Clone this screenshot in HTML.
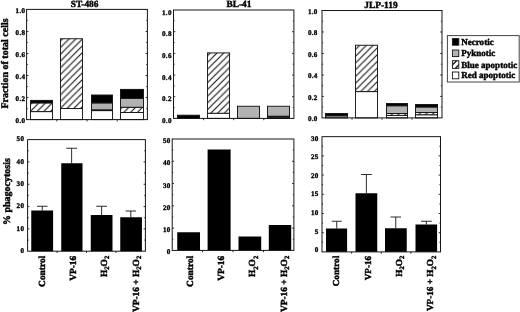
<!DOCTYPE html>
<html><head><meta charset="utf-8"><title>Figure</title>
<style>
html,body{margin:0;padding:0;background:#fff;}
svg{display:block}
.t{stroke-width:0.33px;letter-spacing:0.3px}
text{font-family:"Liberation Serif","DejaVu Serif",serif;font-weight:bold;fill:#000;stroke:#000;stroke-width:0.42px;text-rendering:geometricPrecision}
</style></head>
<body>
<svg width="520" height="312" viewBox="0 0 520 312">
<defs>
<pattern id="hat" width="6.75" height="6.75" patternUnits="userSpaceOnUse">
<path d="M-1,7.75 L7.75,-1 M-1,1 L1,-1 M5.75,7.75 L7.75,5.75" stroke="#151515" stroke-width="1.15" fill="none"/>
</pattern>
<filter id="soft" x="0" y="0" width="520" height="312" filterUnits="userSpaceOnUse"><feGaussianBlur stdDeviation="0.3"/></filter>
<clipPath id="swc"><rect x="452.4" y="60.7" width="6.4" height="7.7"/></clipPath>
<pattern id="hat2" width="7" height="7" patternUnits="userSpaceOnUse" x="452.4" y="61.8">
<path d="M-1,8 L8,-1 M-1,1 L1,-1 M6,8 L8,6" stroke="#151515" stroke-width="1.7" fill="none"/>
</pattern>
</defs>
<rect width="520" height="312" fill="#fff"/>
<g filter="url(#soft)">
<rect x="26.60" y="9.40" width="120.80" height="110.20" fill="#fff"/>
<rect x="173.50" y="10.00" width="120.40" height="108.40" fill="#fff"/>
<rect x="322.00" y="10.50" width="120.00" height="107.40" fill="#fff"/>
<rect x="30.50" y="111.60" width="22.00" height="8.00" fill="#fff" stroke="#151515" stroke-width="0.95"/>
<rect x="30.50" y="102.90" width="22.00" height="8.70" fill="#fff"/>
<rect x="30.50" y="102.90" width="22.00" height="8.70" fill="url(#hat)" stroke="#151515" stroke-width="0.95"/>
<rect x="30.50" y="100.40" width="22.00" height="2.50" fill="#000" stroke="#151515" stroke-width="0.95"/>
<rect x="60.50" y="108.50" width="22.00" height="11.10" fill="#fff" stroke="#151515" stroke-width="0.95"/>
<rect x="60.50" y="38.75" width="22.00" height="69.75" fill="#fff"/>
<rect x="60.50" y="38.75" width="22.00" height="69.75" fill="url(#hat)" stroke="#151515" stroke-width="0.95"/>
<rect x="91.50" y="110.60" width="21.00" height="9.00" fill="#fff" stroke="#151515" stroke-width="0.95"/>
<rect x="91.50" y="109.80" width="21.00" height="0.80" fill="#fff"/>
<rect x="91.50" y="109.80" width="21.00" height="0.80" fill="url(#hat)" stroke="#151515" stroke-width="0.95"/>
<rect x="91.50" y="102.90" width="21.00" height="6.90" fill="#b2b2b2" stroke="#151515" stroke-width="0.95"/>
<rect x="91.50" y="95.00" width="21.00" height="7.90" fill="#000" stroke="#151515" stroke-width="0.95"/>
<rect x="120.50" y="112.50" width="23.00" height="7.10" fill="#fff" stroke="#151515" stroke-width="0.95"/>
<rect x="120.50" y="107.25" width="23.00" height="5.25" fill="#fff"/>
<rect x="120.50" y="107.25" width="23.00" height="5.25" fill="url(#hat)" stroke="#151515" stroke-width="0.95"/>
<rect x="120.50" y="98.50" width="23.00" height="8.75" fill="#b2b2b2" stroke="#151515" stroke-width="0.95"/>
<rect x="120.50" y="89.40" width="23.00" height="9.10" fill="#000" stroke="#151515" stroke-width="0.95"/>
<rect x="177.50" y="115.20" width="22.00" height="3.20" fill="#000" stroke="#151515" stroke-width="0.95"/>
<rect x="207.50" y="113.25" width="22.00" height="5.15" fill="#fff" stroke="#151515" stroke-width="0.95"/>
<rect x="207.50" y="52.90" width="22.00" height="60.35" fill="#fff"/>
<rect x="207.50" y="52.90" width="22.00" height="60.35" fill="url(#hat)" stroke="#151515" stroke-width="0.95"/>
<rect x="237.50" y="106.25" width="22.00" height="12.15" fill="#b2b2b2" stroke="#151515" stroke-width="0.95"/>
<rect x="267.50" y="117.20" width="22.00" height="1.20" fill="#fff" stroke="#151515" stroke-width="0.95"/>
<rect x="267.50" y="116.20" width="22.00" height="1.00" fill="#000" stroke="#151515" stroke-width="0.95"/>
<rect x="267.50" y="106.25" width="22.00" height="9.95" fill="#b2b2b2" stroke="#151515" stroke-width="0.95"/>
<rect x="325.50" y="115.75" width="22.00" height="2.15" fill="#b2b2b2" stroke="#151515" stroke-width="0.95"/>
<rect x="325.50" y="113.50" width="22.00" height="2.25" fill="#000" stroke="#151515" stroke-width="0.95"/>
<rect x="355.50" y="91.60" width="22.00" height="26.30" fill="#fff" stroke="#151515" stroke-width="0.95"/>
<rect x="355.50" y="45.25" width="22.00" height="46.35" fill="#fff"/>
<rect x="355.50" y="45.25" width="22.00" height="46.35" fill="url(#hat)" stroke="#151515" stroke-width="0.95"/>
<rect x="386.50" y="115.40" width="21.00" height="2.50" fill="#fff" stroke="#151515" stroke-width="0.95"/>
<rect x="386.50" y="113.50" width="21.00" height="1.90" fill="#fff"/>
<rect x="386.50" y="113.50" width="21.00" height="1.90" fill="url(#hat)" stroke="#151515" stroke-width="0.95"/>
<rect x="386.50" y="105.75" width="21.00" height="7.75" fill="#b2b2b2" stroke="#151515" stroke-width="0.95"/>
<rect x="386.50" y="103.50" width="21.00" height="2.25" fill="#000" stroke="#151515" stroke-width="0.95"/>
<rect x="415.50" y="114.75" width="22.00" height="3.15" fill="#fff" stroke="#151515" stroke-width="0.95"/>
<rect x="415.50" y="112.50" width="22.00" height="2.25" fill="#fff"/>
<rect x="415.50" y="112.50" width="22.00" height="2.25" fill="url(#hat)" stroke="#151515" stroke-width="0.95"/>
<rect x="415.50" y="107.00" width="22.00" height="5.50" fill="#b2b2b2" stroke="#151515" stroke-width="0.95"/>
<rect x="415.50" y="104.50" width="22.00" height="2.50" fill="#000" stroke="#151515" stroke-width="0.95"/>
<rect x="26.60" y="9.40" width="120.80" height="110.20" fill="none" stroke="#151515" stroke-width="1.0"/>
<line x1="26.60" y1="31.44" x2="28.40" y2="31.44" stroke="#151515" stroke-width="0.9"/>
<line x1="145.60" y1="31.44" x2="147.40" y2="31.44" stroke="#151515" stroke-width="0.9"/>
<line x1="26.60" y1="53.48" x2="28.40" y2="53.48" stroke="#151515" stroke-width="0.9"/>
<line x1="145.60" y1="53.48" x2="147.40" y2="53.48" stroke="#151515" stroke-width="0.9"/>
<line x1="26.60" y1="75.52" x2="28.40" y2="75.52" stroke="#151515" stroke-width="0.9"/>
<line x1="145.60" y1="75.52" x2="147.40" y2="75.52" stroke="#151515" stroke-width="0.9"/>
<line x1="26.60" y1="97.56" x2="28.40" y2="97.56" stroke="#151515" stroke-width="0.9"/>
<line x1="145.60" y1="97.56" x2="147.40" y2="97.56" stroke="#151515" stroke-width="0.9"/>
<line x1="26.60" y1="20.42" x2="27.70" y2="20.42" stroke="#151515" stroke-width="0.9"/>
<line x1="146.30" y1="20.42" x2="147.40" y2="20.42" stroke="#151515" stroke-width="0.9"/>
<line x1="26.60" y1="42.46" x2="27.70" y2="42.46" stroke="#151515" stroke-width="0.9"/>
<line x1="146.30" y1="42.46" x2="147.40" y2="42.46" stroke="#151515" stroke-width="0.9"/>
<line x1="26.60" y1="64.50" x2="27.70" y2="64.50" stroke="#151515" stroke-width="0.9"/>
<line x1="146.30" y1="64.50" x2="147.40" y2="64.50" stroke="#151515" stroke-width="0.9"/>
<line x1="26.60" y1="86.54" x2="27.70" y2="86.54" stroke="#151515" stroke-width="0.9"/>
<line x1="146.30" y1="86.54" x2="147.40" y2="86.54" stroke="#151515" stroke-width="0.9"/>
<line x1="26.60" y1="108.58" x2="27.70" y2="108.58" stroke="#151515" stroke-width="0.9"/>
<line x1="146.30" y1="108.58" x2="147.40" y2="108.58" stroke="#151515" stroke-width="0.9"/>
<line x1="56.80" y1="119.60" x2="56.80" y2="121.40" stroke="#151515" stroke-width="0.9"/>
<line x1="87.00" y1="119.60" x2="87.00" y2="121.40" stroke="#151515" stroke-width="0.9"/>
<line x1="117.20" y1="119.60" x2="117.20" y2="121.40" stroke="#151515" stroke-width="0.9"/>
<rect x="173.50" y="10.00" width="120.40" height="108.40" fill="none" stroke="#151515" stroke-width="1.0"/>
<line x1="173.50" y1="31.68" x2="175.30" y2="31.68" stroke="#151515" stroke-width="0.9"/>
<line x1="292.10" y1="31.68" x2="293.90" y2="31.68" stroke="#151515" stroke-width="0.9"/>
<line x1="173.50" y1="53.36" x2="175.30" y2="53.36" stroke="#151515" stroke-width="0.9"/>
<line x1="292.10" y1="53.36" x2="293.90" y2="53.36" stroke="#151515" stroke-width="0.9"/>
<line x1="173.50" y1="75.04" x2="175.30" y2="75.04" stroke="#151515" stroke-width="0.9"/>
<line x1="292.10" y1="75.04" x2="293.90" y2="75.04" stroke="#151515" stroke-width="0.9"/>
<line x1="173.50" y1="96.72" x2="175.30" y2="96.72" stroke="#151515" stroke-width="0.9"/>
<line x1="292.10" y1="96.72" x2="293.90" y2="96.72" stroke="#151515" stroke-width="0.9"/>
<line x1="173.50" y1="20.84" x2="174.60" y2="20.84" stroke="#151515" stroke-width="0.9"/>
<line x1="292.80" y1="20.84" x2="293.90" y2="20.84" stroke="#151515" stroke-width="0.9"/>
<line x1="173.50" y1="42.52" x2="174.60" y2="42.52" stroke="#151515" stroke-width="0.9"/>
<line x1="292.80" y1="42.52" x2="293.90" y2="42.52" stroke="#151515" stroke-width="0.9"/>
<line x1="173.50" y1="64.20" x2="174.60" y2="64.20" stroke="#151515" stroke-width="0.9"/>
<line x1="292.80" y1="64.20" x2="293.90" y2="64.20" stroke="#151515" stroke-width="0.9"/>
<line x1="173.50" y1="85.88" x2="174.60" y2="85.88" stroke="#151515" stroke-width="0.9"/>
<line x1="292.80" y1="85.88" x2="293.90" y2="85.88" stroke="#151515" stroke-width="0.9"/>
<line x1="173.50" y1="107.56" x2="174.60" y2="107.56" stroke="#151515" stroke-width="0.9"/>
<line x1="292.80" y1="107.56" x2="293.90" y2="107.56" stroke="#151515" stroke-width="0.9"/>
<line x1="203.60" y1="118.40" x2="203.60" y2="120.20" stroke="#151515" stroke-width="0.9"/>
<line x1="233.70" y1="118.40" x2="233.70" y2="120.20" stroke="#151515" stroke-width="0.9"/>
<line x1="263.80" y1="118.40" x2="263.80" y2="120.20" stroke="#151515" stroke-width="0.9"/>
<rect x="322.00" y="10.50" width="120.00" height="107.40" fill="none" stroke="#151515" stroke-width="1.0"/>
<line x1="322.00" y1="31.98" x2="323.80" y2="31.98" stroke="#151515" stroke-width="0.9"/>
<line x1="440.20" y1="31.98" x2="442.00" y2="31.98" stroke="#151515" stroke-width="0.9"/>
<line x1="322.00" y1="53.46" x2="323.80" y2="53.46" stroke="#151515" stroke-width="0.9"/>
<line x1="440.20" y1="53.46" x2="442.00" y2="53.46" stroke="#151515" stroke-width="0.9"/>
<line x1="322.00" y1="74.94" x2="323.80" y2="74.94" stroke="#151515" stroke-width="0.9"/>
<line x1="440.20" y1="74.94" x2="442.00" y2="74.94" stroke="#151515" stroke-width="0.9"/>
<line x1="322.00" y1="96.42" x2="323.80" y2="96.42" stroke="#151515" stroke-width="0.9"/>
<line x1="440.20" y1="96.42" x2="442.00" y2="96.42" stroke="#151515" stroke-width="0.9"/>
<line x1="322.00" y1="21.24" x2="323.10" y2="21.24" stroke="#151515" stroke-width="0.9"/>
<line x1="440.90" y1="21.24" x2="442.00" y2="21.24" stroke="#151515" stroke-width="0.9"/>
<line x1="322.00" y1="42.72" x2="323.10" y2="42.72" stroke="#151515" stroke-width="0.9"/>
<line x1="440.90" y1="42.72" x2="442.00" y2="42.72" stroke="#151515" stroke-width="0.9"/>
<line x1="322.00" y1="64.20" x2="323.10" y2="64.20" stroke="#151515" stroke-width="0.9"/>
<line x1="440.90" y1="64.20" x2="442.00" y2="64.20" stroke="#151515" stroke-width="0.9"/>
<line x1="322.00" y1="85.68" x2="323.10" y2="85.68" stroke="#151515" stroke-width="0.9"/>
<line x1="440.90" y1="85.68" x2="442.00" y2="85.68" stroke="#151515" stroke-width="0.9"/>
<line x1="322.00" y1="107.16" x2="323.10" y2="107.16" stroke="#151515" stroke-width="0.9"/>
<line x1="440.90" y1="107.16" x2="442.00" y2="107.16" stroke="#151515" stroke-width="0.9"/>
<line x1="352.00" y1="117.90" x2="352.00" y2="119.70" stroke="#151515" stroke-width="0.9"/>
<line x1="382.00" y1="117.90" x2="382.00" y2="119.70" stroke="#151515" stroke-width="0.9"/>
<line x1="412.00" y1="117.90" x2="412.00" y2="119.70" stroke="#151515" stroke-width="0.9"/>
<text x="25.40" y="12.56" font-size="7.1" text-anchor="end" class="t">1.0</text>
<text x="25.40" y="34.60" font-size="7.1" text-anchor="end" class="t">0.8</text>
<text x="25.40" y="56.64" font-size="7.1" text-anchor="end" class="t">0.6</text>
<text x="25.40" y="78.68" font-size="7.1" text-anchor="end" class="t">0.4</text>
<text x="25.40" y="100.72" font-size="7.1" text-anchor="end" class="t">0.2</text>
<text x="25.40" y="122.76" font-size="7.1" text-anchor="end" class="t">0.0</text>
<text x="171.80" y="14.76" font-size="7.1" text-anchor="end" class="t">1.0</text>
<text x="171.80" y="36.44" font-size="7.1" text-anchor="end" class="t">0.8</text>
<text x="171.80" y="58.12" font-size="7.1" text-anchor="end" class="t">0.6</text>
<text x="171.80" y="79.80" font-size="7.1" text-anchor="end" class="t">0.4</text>
<text x="171.80" y="101.48" font-size="7.1" text-anchor="end" class="t">0.2</text>
<text x="171.80" y="123.16" font-size="7.1" text-anchor="end" class="t">0.0</text>
<text x="317.70" y="13.86" font-size="7.1" text-anchor="end" class="t">1.0</text>
<text x="317.70" y="35.34" font-size="7.1" text-anchor="end" class="t">0.8</text>
<text x="317.70" y="56.82" font-size="7.1" text-anchor="end" class="t">0.6</text>
<text x="317.70" y="78.30" font-size="7.1" text-anchor="end" class="t">0.4</text>
<text x="317.70" y="99.78" font-size="7.1" text-anchor="end" class="t">0.2</text>
<text x="317.70" y="121.26" font-size="7.1" text-anchor="end" class="t">0.0</text>
<text x="84.60" y="7.20" font-size="9.4" text-anchor="middle">ST-486</text>
<text x="239.00" y="7.20" font-size="9.4" text-anchor="middle">BL-41</text>
<text x="381.00" y="7.50" font-size="9.4" text-anchor="middle">JLP-119</text>
<text x="7.90" y="63.50" font-size="10" text-anchor="middle" transform="rotate(-90 7.90 63.50)">Fraction of total cells</text>
<text x="9.80" y="191.60" font-size="10" text-anchor="middle" transform="rotate(-90 9.80 191.60)">% phagocytosis</text>
<rect x="447.40" y="35.60" width="71.80" height="46.40" fill="#fff" stroke="#444" stroke-width="1"/>
<rect x="452.40" y="38.60" width="6.40" height="6.60" fill="#000" stroke="#151515" stroke-width="0.9"/>
<text x="461.20" y="44.70" font-size="9.05" text-anchor="start">Necrotic</text>
<rect x="452.40" y="50.00" width="6.40" height="6.60" fill="#b2b2b2" stroke="#151515" stroke-width="0.9"/>
<text x="461.20" y="55.90" font-size="9.05" text-anchor="start">Pyknotic</text>
<rect x="452.40" y="60.70" width="6.40" height="7.70" fill="#fff"/>
<g clip-path="url(#swc)">
<line x1="450.00" y1="67.35" x2="462.00" y2="55.35" stroke="#151515" stroke-width="1.4"/>
<line x1="450.00" y1="73.75" x2="462.00" y2="61.75" stroke="#151515" stroke-width="1.4"/>
</g>
<rect x="452.40" y="60.70" width="6.40" height="7.70" fill="none" stroke="#151515" stroke-width="0.9"/>
<text x="461.20" y="68.20" font-size="9.05" text-anchor="start">Blue apoptotic</text>
<rect x="452.40" y="72.00" width="6.40" height="6.80" fill="#fff" stroke="#151515" stroke-width="0.9"/>
<text x="461.20" y="78.30" font-size="9.05" text-anchor="start">Red apoptotic</text>
<rect x="27.60" y="139.60" width="117.80" height="111.60" fill="#fff"/>
<rect x="172.20" y="139.00" width="121.70" height="111.40" fill="#fff"/>
<rect x="322.00" y="136.65" width="118.50" height="115.25" fill="#fff"/>
<line x1="42.25" y1="210.50" x2="42.25" y2="206.25" stroke="#151515" stroke-width="0.9"/>
<line x1="37.00" y1="206.25" x2="47.50" y2="206.25" stroke="#151515" stroke-width="0.9"/>
<rect x="31.25" y="210.50" width="21.85" height="40.70" fill="#000"/>
<line x1="71.62" y1="163.25" x2="71.62" y2="148.25" stroke="#151515" stroke-width="0.9"/>
<line x1="66.25" y1="148.25" x2="77.00" y2="148.25" stroke="#151515" stroke-width="0.9"/>
<rect x="61.25" y="163.25" width="21.25" height="87.95" fill="#000"/>
<line x1="101.62" y1="215.00" x2="101.62" y2="206.25" stroke="#151515" stroke-width="0.9"/>
<line x1="96.25" y1="206.25" x2="107.00" y2="206.25" stroke="#151515" stroke-width="0.9"/>
<rect x="90.75" y="215.00" width="21.75" height="36.20" fill="#000"/>
<line x1="130.80" y1="217.25" x2="130.80" y2="211.00" stroke="#151515" stroke-width="0.9"/>
<line x1="125.60" y1="211.00" x2="136.00" y2="211.00" stroke="#151515" stroke-width="0.9"/>
<rect x="120.25" y="217.25" width="21.65" height="33.95" fill="#000"/>
<rect x="177.25" y="232.25" width="22.75" height="18.15" fill="#000"/>
<rect x="207.60" y="149.50" width="23.00" height="100.90" fill="#000"/>
<rect x="238.50" y="236.50" width="22.70" height="13.90" fill="#000"/>
<rect x="268.80" y="225.00" width="22.40" height="25.40" fill="#000"/>
<line x1="336.75" y1="228.50" x2="336.75" y2="221.25" stroke="#151515" stroke-width="0.9"/>
<line x1="331.75" y1="221.25" x2="341.75" y2="221.25" stroke="#151515" stroke-width="0.9"/>
<rect x="326.00" y="228.50" width="21.10" height="23.40" fill="#000"/>
<line x1="366.38" y1="193.25" x2="366.38" y2="174.50" stroke="#151515" stroke-width="0.9"/>
<line x1="361.00" y1="174.50" x2="371.75" y2="174.50" stroke="#151515" stroke-width="0.9"/>
<rect x="355.50" y="193.25" width="21.75" height="58.65" fill="#000"/>
<line x1="395.75" y1="228.25" x2="395.75" y2="217.00" stroke="#151515" stroke-width="0.9"/>
<line x1="390.50" y1="217.00" x2="401.00" y2="217.00" stroke="#151515" stroke-width="0.9"/>
<rect x="385.00" y="228.25" width="21.75" height="23.65" fill="#000"/>
<line x1="426.38" y1="224.50" x2="426.38" y2="221.25" stroke="#151515" stroke-width="0.9"/>
<line x1="421.00" y1="221.25" x2="431.75" y2="221.25" stroke="#151515" stroke-width="0.9"/>
<rect x="415.50" y="224.50" width="21.60" height="27.40" fill="#000"/>
<rect x="27.60" y="139.60" width="117.80" height="111.60" fill="none" stroke="#151515" stroke-width="1.0"/>
<line x1="27.60" y1="161.92" x2="29.40" y2="161.92" stroke="#151515" stroke-width="0.9"/>
<line x1="143.60" y1="161.92" x2="145.40" y2="161.92" stroke="#151515" stroke-width="0.9"/>
<line x1="27.60" y1="184.24" x2="29.40" y2="184.24" stroke="#151515" stroke-width="0.9"/>
<line x1="143.60" y1="184.24" x2="145.40" y2="184.24" stroke="#151515" stroke-width="0.9"/>
<line x1="27.60" y1="206.56" x2="29.40" y2="206.56" stroke="#151515" stroke-width="0.9"/>
<line x1="143.60" y1="206.56" x2="145.40" y2="206.56" stroke="#151515" stroke-width="0.9"/>
<line x1="27.60" y1="228.88" x2="29.40" y2="228.88" stroke="#151515" stroke-width="0.9"/>
<line x1="143.60" y1="228.88" x2="145.40" y2="228.88" stroke="#151515" stroke-width="0.9"/>
<line x1="27.60" y1="150.76" x2="28.70" y2="150.76" stroke="#151515" stroke-width="0.9"/>
<line x1="144.30" y1="150.76" x2="145.40" y2="150.76" stroke="#151515" stroke-width="0.9"/>
<line x1="27.60" y1="173.08" x2="28.70" y2="173.08" stroke="#151515" stroke-width="0.9"/>
<line x1="144.30" y1="173.08" x2="145.40" y2="173.08" stroke="#151515" stroke-width="0.9"/>
<line x1="27.60" y1="195.40" x2="28.70" y2="195.40" stroke="#151515" stroke-width="0.9"/>
<line x1="144.30" y1="195.40" x2="145.40" y2="195.40" stroke="#151515" stroke-width="0.9"/>
<line x1="27.60" y1="217.72" x2="28.70" y2="217.72" stroke="#151515" stroke-width="0.9"/>
<line x1="144.30" y1="217.72" x2="145.40" y2="217.72" stroke="#151515" stroke-width="0.9"/>
<line x1="27.60" y1="240.04" x2="28.70" y2="240.04" stroke="#151515" stroke-width="0.9"/>
<line x1="144.30" y1="240.04" x2="145.40" y2="240.04" stroke="#151515" stroke-width="0.9"/>
<line x1="57.05" y1="251.20" x2="57.05" y2="253.00" stroke="#151515" stroke-width="0.9"/>
<line x1="86.50" y1="251.20" x2="86.50" y2="253.00" stroke="#151515" stroke-width="0.9"/>
<line x1="115.95" y1="251.20" x2="115.95" y2="253.00" stroke="#151515" stroke-width="0.9"/>
<rect x="172.20" y="139.00" width="121.70" height="111.40" fill="none" stroke="#151515" stroke-width="1.0"/>
<line x1="172.20" y1="161.28" x2="174.00" y2="161.28" stroke="#151515" stroke-width="0.9"/>
<line x1="292.10" y1="161.28" x2="293.90" y2="161.28" stroke="#151515" stroke-width="0.9"/>
<line x1="172.20" y1="183.56" x2="174.00" y2="183.56" stroke="#151515" stroke-width="0.9"/>
<line x1="292.10" y1="183.56" x2="293.90" y2="183.56" stroke="#151515" stroke-width="0.9"/>
<line x1="172.20" y1="205.84" x2="174.00" y2="205.84" stroke="#151515" stroke-width="0.9"/>
<line x1="292.10" y1="205.84" x2="293.90" y2="205.84" stroke="#151515" stroke-width="0.9"/>
<line x1="172.20" y1="228.12" x2="174.00" y2="228.12" stroke="#151515" stroke-width="0.9"/>
<line x1="292.10" y1="228.12" x2="293.90" y2="228.12" stroke="#151515" stroke-width="0.9"/>
<line x1="172.20" y1="150.14" x2="173.30" y2="150.14" stroke="#151515" stroke-width="0.9"/>
<line x1="292.80" y1="150.14" x2="293.90" y2="150.14" stroke="#151515" stroke-width="0.9"/>
<line x1="172.20" y1="172.42" x2="173.30" y2="172.42" stroke="#151515" stroke-width="0.9"/>
<line x1="292.80" y1="172.42" x2="293.90" y2="172.42" stroke="#151515" stroke-width="0.9"/>
<line x1="172.20" y1="194.70" x2="173.30" y2="194.70" stroke="#151515" stroke-width="0.9"/>
<line x1="292.80" y1="194.70" x2="293.90" y2="194.70" stroke="#151515" stroke-width="0.9"/>
<line x1="172.20" y1="216.98" x2="173.30" y2="216.98" stroke="#151515" stroke-width="0.9"/>
<line x1="292.80" y1="216.98" x2="293.90" y2="216.98" stroke="#151515" stroke-width="0.9"/>
<line x1="172.20" y1="239.26" x2="173.30" y2="239.26" stroke="#151515" stroke-width="0.9"/>
<line x1="292.80" y1="239.26" x2="293.90" y2="239.26" stroke="#151515" stroke-width="0.9"/>
<line x1="202.62" y1="250.40" x2="202.62" y2="252.20" stroke="#151515" stroke-width="0.9"/>
<line x1="233.05" y1="250.40" x2="233.05" y2="252.20" stroke="#151515" stroke-width="0.9"/>
<line x1="263.47" y1="250.40" x2="263.47" y2="252.20" stroke="#151515" stroke-width="0.9"/>
<rect x="322.00" y="136.65" width="118.50" height="115.25" fill="none" stroke="#151515" stroke-width="1.0"/>
<line x1="322.00" y1="155.86" x2="323.80" y2="155.86" stroke="#151515" stroke-width="0.9"/>
<line x1="438.70" y1="155.86" x2="440.50" y2="155.86" stroke="#151515" stroke-width="0.9"/>
<line x1="322.00" y1="175.07" x2="323.80" y2="175.07" stroke="#151515" stroke-width="0.9"/>
<line x1="438.70" y1="175.07" x2="440.50" y2="175.07" stroke="#151515" stroke-width="0.9"/>
<line x1="322.00" y1="194.28" x2="323.80" y2="194.28" stroke="#151515" stroke-width="0.9"/>
<line x1="438.70" y1="194.28" x2="440.50" y2="194.28" stroke="#151515" stroke-width="0.9"/>
<line x1="322.00" y1="213.48" x2="323.80" y2="213.48" stroke="#151515" stroke-width="0.9"/>
<line x1="438.70" y1="213.48" x2="440.50" y2="213.48" stroke="#151515" stroke-width="0.9"/>
<line x1="322.00" y1="232.69" x2="323.80" y2="232.69" stroke="#151515" stroke-width="0.9"/>
<line x1="438.70" y1="232.69" x2="440.50" y2="232.69" stroke="#151515" stroke-width="0.9"/>
<line x1="322.00" y1="146.25" x2="323.10" y2="146.25" stroke="#151515" stroke-width="0.9"/>
<line x1="439.40" y1="146.25" x2="440.50" y2="146.25" stroke="#151515" stroke-width="0.9"/>
<line x1="322.00" y1="165.46" x2="323.10" y2="165.46" stroke="#151515" stroke-width="0.9"/>
<line x1="439.40" y1="165.46" x2="440.50" y2="165.46" stroke="#151515" stroke-width="0.9"/>
<line x1="322.00" y1="184.67" x2="323.10" y2="184.67" stroke="#151515" stroke-width="0.9"/>
<line x1="439.40" y1="184.67" x2="440.50" y2="184.67" stroke="#151515" stroke-width="0.9"/>
<line x1="322.00" y1="203.88" x2="323.10" y2="203.88" stroke="#151515" stroke-width="0.9"/>
<line x1="439.40" y1="203.88" x2="440.50" y2="203.88" stroke="#151515" stroke-width="0.9"/>
<line x1="322.00" y1="223.09" x2="323.10" y2="223.09" stroke="#151515" stroke-width="0.9"/>
<line x1="439.40" y1="223.09" x2="440.50" y2="223.09" stroke="#151515" stroke-width="0.9"/>
<line x1="322.00" y1="242.30" x2="323.10" y2="242.30" stroke="#151515" stroke-width="0.9"/>
<line x1="439.40" y1="242.30" x2="440.50" y2="242.30" stroke="#151515" stroke-width="0.9"/>
<line x1="351.62" y1="251.90" x2="351.62" y2="253.70" stroke="#151515" stroke-width="0.9"/>
<line x1="381.25" y1="251.90" x2="381.25" y2="253.70" stroke="#151515" stroke-width="0.9"/>
<line x1="410.88" y1="251.90" x2="410.88" y2="253.70" stroke="#151515" stroke-width="0.9"/>
<text x="24.30" y="141.36" font-size="7.1" text-anchor="end" class="t">50</text>
<text x="24.30" y="163.68" font-size="7.1" text-anchor="end" class="t">40</text>
<text x="24.30" y="186.00" font-size="7.1" text-anchor="end" class="t">30</text>
<text x="24.30" y="208.32" font-size="7.1" text-anchor="end" class="t">20</text>
<text x="24.30" y="230.64" font-size="7.1" text-anchor="end" class="t">10</text>
<text x="24.30" y="252.96" font-size="7.1" text-anchor="end" class="t">0</text>
<text x="170.70" y="143.06" font-size="7.1" text-anchor="end" class="t">50</text>
<text x="170.70" y="165.34" font-size="7.1" text-anchor="end" class="t">40</text>
<text x="170.70" y="187.62" font-size="7.1" text-anchor="end" class="t">30</text>
<text x="170.70" y="209.90" font-size="7.1" text-anchor="end" class="t">20</text>
<text x="170.70" y="232.18" font-size="7.1" text-anchor="end" class="t">10</text>
<text x="170.70" y="254.46" font-size="7.1" text-anchor="end" class="t">0</text>
<text x="318.60" y="140.56" font-size="7.1" text-anchor="end" class="t">30</text>
<text x="318.60" y="159.18" font-size="7.1" text-anchor="end" class="t">25</text>
<text x="318.60" y="177.79" font-size="7.1" text-anchor="end" class="t">20</text>
<text x="318.60" y="196.41" font-size="7.1" text-anchor="end" class="t">15</text>
<text x="318.60" y="215.03" font-size="7.1" text-anchor="end" class="t">10</text>
<text x="318.60" y="233.64" font-size="7.1" text-anchor="end" class="t">5</text>
<text x="318.60" y="252.26" font-size="7.1" text-anchor="end" class="t">0</text>
<text x="44.60" y="255.80" font-size="9.4" text-anchor="end" transform="rotate(-90 44.60 255.80)">Control</text>
<text x="76.00" y="255.80" font-size="9.4" text-anchor="end" transform="rotate(-90 76.00 255.80)">VP-16</text>
<text x="107.10" y="255.80" font-size="9.4" text-anchor="end" transform="rotate(-90 107.10 255.80)">H<tspan font-size="6.6" dy="2.4">2</tspan><tspan dy="-2.4">O</tspan><tspan font-size="6.6" dy="2.4">2</tspan></text>
<text x="138.60" y="255.80" font-size="9.4" text-anchor="end" transform="rotate(-90 138.60 255.80)">VP-16 + H<tspan font-size="6.6" dy="2.4">2</tspan><tspan dy="-2.4">O</tspan><tspan font-size="6.6" dy="2.4">2</tspan></text>
<text x="193.00" y="255.80" font-size="9.4" text-anchor="end" transform="rotate(-90 193.00 255.80)">Control</text>
<text x="224.20" y="255.80" font-size="9.4" text-anchor="end" transform="rotate(-90 224.20 255.80)">VP-16</text>
<text x="255.40" y="255.80" font-size="9.4" text-anchor="end" transform="rotate(-90 255.40 255.80)">H<tspan font-size="6.6" dy="2.4">2</tspan><tspan dy="-2.4">O</tspan><tspan font-size="6.6" dy="2.4">2</tspan></text>
<text x="287.10" y="255.80" font-size="9.4" text-anchor="end" transform="rotate(-90 287.10 255.80)">VP-16 + H<tspan font-size="6.6" dy="2.4">2</tspan><tspan dy="-2.4">O</tspan><tspan font-size="6.6" dy="2.4">2</tspan></text>
<text x="339.50" y="255.80" font-size="9.2" text-anchor="end" transform="rotate(-90 339.50 255.80)">Control</text>
<text x="370.70" y="255.80" font-size="9.2" text-anchor="end" transform="rotate(-90 370.70 255.80)">VP-16</text>
<text x="402.00" y="255.80" font-size="9.2" text-anchor="end" transform="rotate(-90 402.00 255.80)">H<tspan font-size="6.6" dy="2.4">2</tspan><tspan dy="-2.4">O</tspan><tspan font-size="6.6" dy="2.4">2</tspan></text>
<text x="433.30" y="255.80" font-size="9.2" text-anchor="end" transform="rotate(-90 433.30 255.80)">VP-16 + H<tspan font-size="6.6" dy="2.4">2</tspan><tspan dy="-2.4">O</tspan><tspan font-size="6.6" dy="2.4">2</tspan></text>
</g>
</svg>
</body></html>
